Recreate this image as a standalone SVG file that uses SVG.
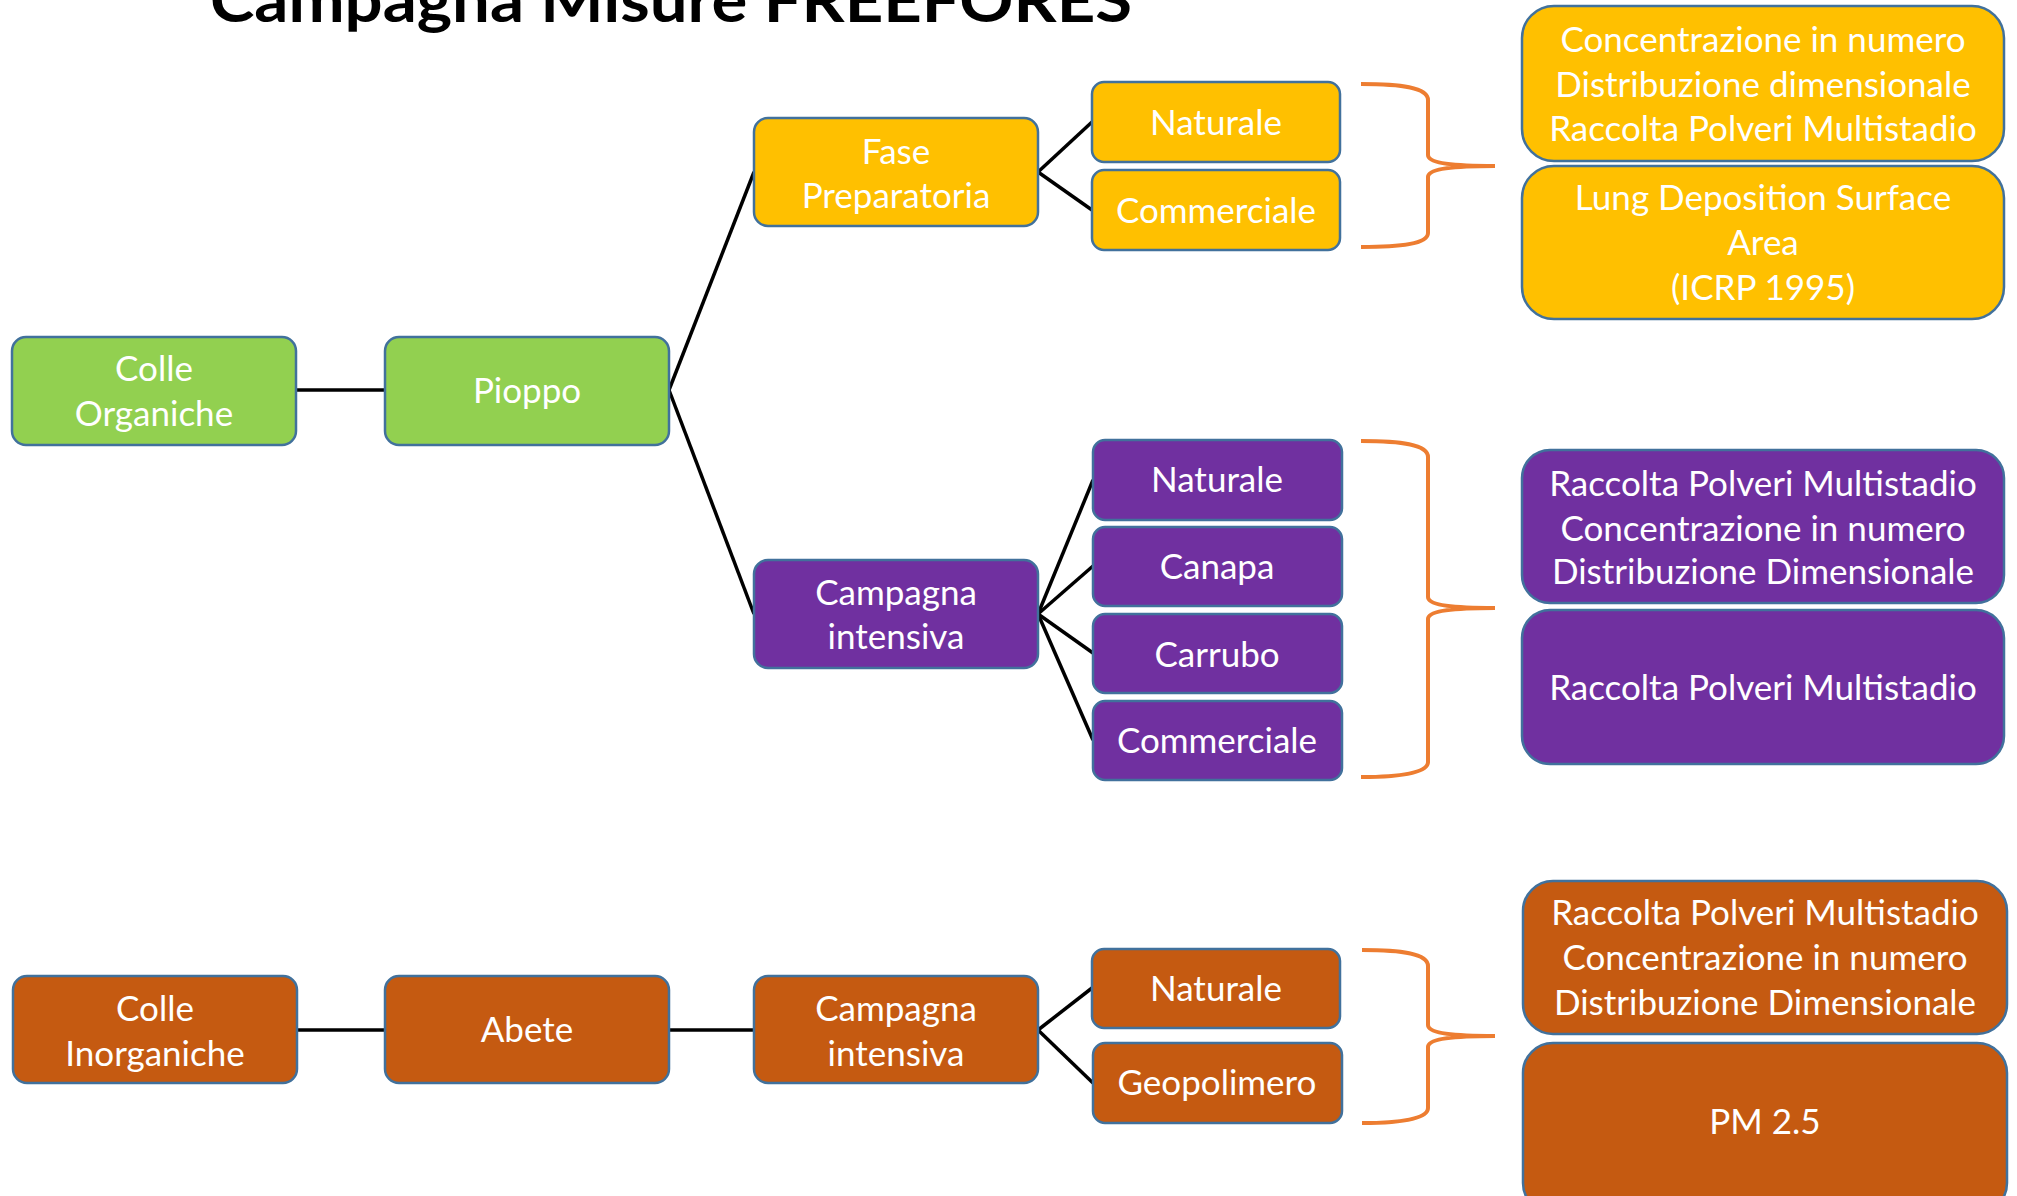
<svg xmlns="http://www.w3.org/2000/svg" width="2017" height="1196" viewBox="0 0 2017 1196">
<style>
  .n rect { stroke: #41719C; stroke-width: 2.5; }
  .g rect { fill: #92D050; }
  .y rect { fill: #FFC000; }
  .p rect { fill: #7030A0; }
  .o rect { fill: #C55A11; }
  .n text { fill: #FFFFFF; font-family: Lato, "Open Sans", sans-serif; font-size: 35px; text-anchor: middle; }
  .ln { stroke: #000000; stroke-width: 3.5; fill: none; }
  .br { stroke: #ED7D31; stroke-width: 4; fill: none; }
  .title { font-family: Lato, "Open Sans", sans-serif; font-weight: bold; font-size: 62px; fill: #000000; }
</style>
<rect width="2017" height="1196" fill="#FFFFFF"/>
<text class="title" x="210" y="22" textLength="922" lengthAdjust="spacingAndGlyphs">Campagna Misure FREEFORES</text>

<g id="connectors">
  <line class="ln" x1="296" y1="390" x2="385" y2="390"/>
  <line class="ln" x1="669" y1="390" x2="754" y2="172"/>
  <line class="ln" x1="669" y1="390" x2="754" y2="614"/>
  <line class="ln" x1="1038" y1="172" x2="1092" y2="122"/>
  <line class="ln" x1="1038" y1="172" x2="1092" y2="210"/>
  <line class="ln" x1="1038" y1="614" x2="1093" y2="480"/>
  <line class="ln" x1="1038" y1="614" x2="1093" y2="566"/>
  <line class="ln" x1="1038" y1="614" x2="1093" y2="653"/>
  <line class="ln" x1="1038" y1="614" x2="1093" y2="740"/>
  <line class="ln" x1="297" y1="1030" x2="385" y2="1030"/>
  <line class="ln" x1="669" y1="1030" x2="754" y2="1030"/>
  <line class="ln" x1="1038" y1="1030" x2="1092" y2="988"/>
  <line class="ln" x1="1038" y1="1030" x2="1093" y2="1083"/>
  <path class="br" d="M1361,84 C1400,84 1428,87 1428,100 L1428,155 C1428,162 1445,166 1495,166 C1445,166 1428,170 1428,177 L1428,233 C1428,244 1400,247 1361,247"/>
  <path class="br" d="M1361,441 C1400,441 1428,444 1428,457 L1428,597 C1428,604 1445,608 1495,608 C1445,608 1428,612 1428,619 L1428,762 C1428,773 1400,777 1361,777"/>
  <path class="br" d="M1362,950 C1400,950 1428,953 1428,966 L1428,1025 C1428,1032 1445,1036 1495,1036 C1445,1036 1428,1040 1428,1047 L1428,1108 C1428,1119 1400,1123 1362,1123"/>
</g>

<g id="colle-organiche" class="n g"><rect x="12" y="337" width="284" height="108" rx="14"/><text x="154" y="381">Colle</text><text x="154" y="426">Organiche</text></g>
<g id="pioppo" class="n g"><rect x="385" y="337" width="284" height="108" rx="14"/><text x="527" y="403">Pioppo</text></g>
<g id="fase-preparatoria" class="n y"><rect x="754" y="118" width="284" height="108" rx="14"/><text x="896" y="164">Fase</text><text x="896" y="208">Preparatoria</text></g>
<g id="naturale-1" class="n y"><rect x="1092" y="82" width="248" height="80" rx="12"/><text x="1216" y="135">Naturale</text></g>
<g id="commerciale-1" class="n y"><rect x="1092" y="170" width="248" height="80" rx="12"/><text x="1216" y="223">Commerciale</text></g>
<g id="misure-1a" class="n y"><rect x="1522" y="6" width="482" height="155" rx="32"/><text x="1763" y="52">Concentrazione in numero</text><text x="1763" y="97">Distribuzione dimensionale</text><text x="1763" y="141">Raccolta Polveri Multistadio</text></g>
<g id="misure-1b" class="n y"><rect x="1522" y="166" width="482" height="153" rx="32"/><text x="1763" y="210">Lung Deposition Surface</text><text x="1763" y="255">Area</text><text x="1763" y="300">(ICRP 1995)</text></g>

<g id="campagna-intensiva-1" class="n p"><rect x="754" y="560" width="284" height="108" rx="14"/><text x="896" y="605">Campagna</text><text x="896" y="649">intensiva</text></g>
<g id="naturale-2" class="n p"><rect x="1093" y="440" width="249" height="80" rx="12"/><text x="1217" y="492">Naturale</text></g>
<g id="canapa" class="n p"><rect x="1093" y="527" width="249" height="79" rx="12"/><text x="1217" y="579">Canapa</text></g>
<g id="carrubo" class="n p"><rect x="1093" y="614" width="249" height="79" rx="12"/><text x="1217" y="667">Carrubo</text></g>
<g id="commerciale-2" class="n p"><rect x="1093" y="701" width="249" height="79" rx="12"/><text x="1217" y="753">Commerciale</text></g>
<g id="misure-2a" class="n p"><rect x="1522" y="450" width="482" height="153" rx="28"/><text x="1763" y="496">Raccolta Polveri Multistadio</text><text x="1763" y="541">Concentrazione in numero</text><text x="1763" y="584">Distribuzione Dimensionale</text></g>
<g id="misure-2b" class="n p"><rect x="1522" y="610" width="482" height="154" rx="28"/><text x="1763" y="700">Raccolta Polveri Multistadio</text></g>

<g id="colle-inorganiche" class="n o"><rect x="13" y="976" width="284" height="107" rx="14"/><text x="155" y="1021">Colle</text><text x="155" y="1066">Inorganiche</text></g>
<g id="abete" class="n o"><rect x="385" y="976" width="284" height="107" rx="14"/><text x="527" y="1042">Abete</text></g>
<g id="campagna-intensiva-2" class="n o"><rect x="754" y="976" width="284" height="107" rx="14"/><text x="896" y="1021">Campagna</text><text x="896" y="1066">intensiva</text></g>
<g id="naturale-3" class="n o"><rect x="1092" y="949" width="248" height="79" rx="12"/><text x="1216" y="1001">Naturale</text></g>
<g id="geopolimero" class="n o"><rect x="1093" y="1043" width="249" height="80" rx="12"/><text x="1217" y="1095">Geopolimero</text></g>
<g id="misure-3a" class="n o"><rect x="1523" y="881" width="484" height="153" rx="30"/><text x="1765" y="925">Raccolta Polveri Multistadio</text><text x="1765" y="970">Concentrazione in numero</text><text x="1765" y="1015">Distribuzione Dimensionale</text></g>
<g id="misure-3b" class="n o"><rect x="1523" y="1043" width="484" height="170" rx="30"/><text x="1765" y="1134">PM 2.5</text></g>
</svg>
